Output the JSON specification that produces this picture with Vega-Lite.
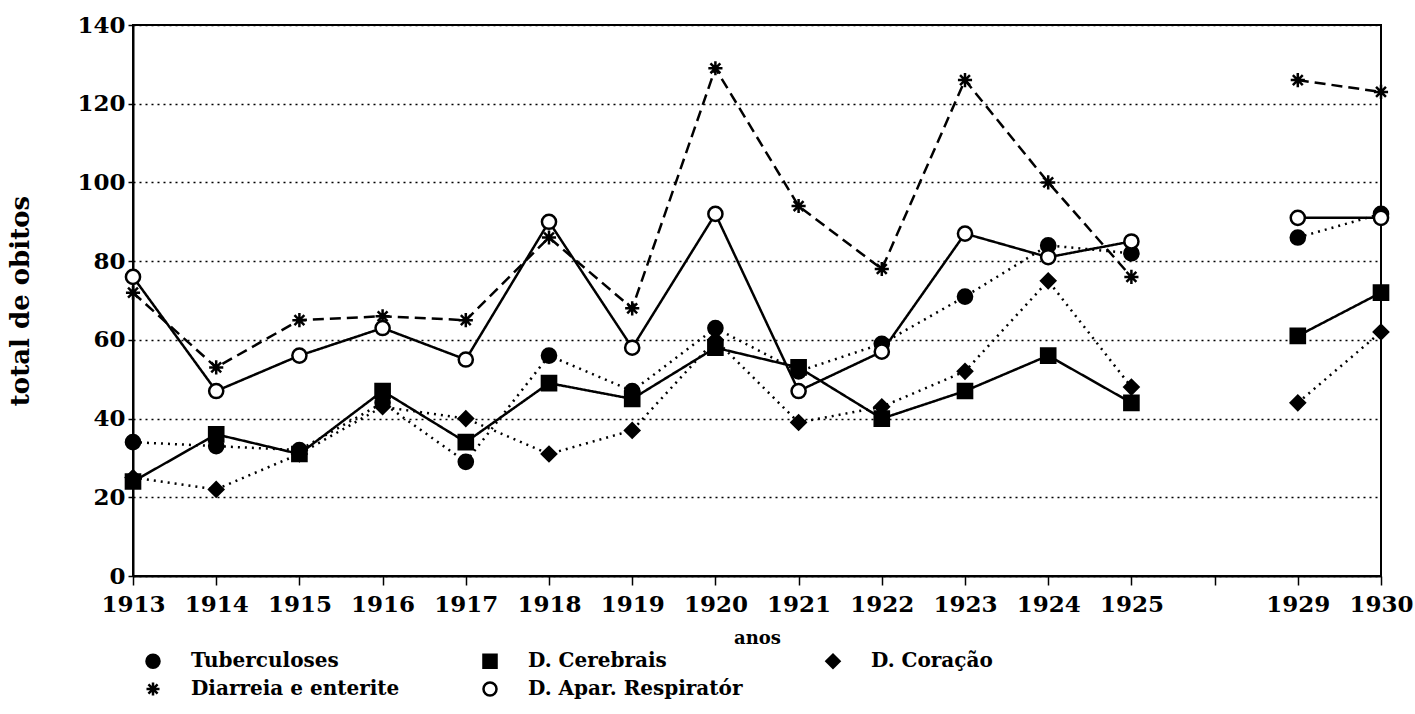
{
  "$schema": "https://vega.github.io/schema/vega-lite/v6.json",
  "autosize": "none",
  "padding": {"left": 133, "top": 25, "right": 34, "bottom": 138},
  "width": 1248,
  "height": 551,
  "background": "white",
  "config": {
    "view": {"stroke": "black", "strokeWidth": 2},
    "font": "DejaVu Serif",
    "axis": {"domainColor": "black", "domainWidth": 2, "tickColor": "black", "tickWidth": 1.5, "labelColor": "black", "titleColor": "black", "labelFont": "DejaVu Serif", "labelFontWeight": "bold", "titleFont": "DejaVu Serif"},
    "legend": {"labelFont": "DejaVu Serif", "labelFontWeight": "bold", "labelColor": "black", "labelFontSize": 20, "labelLimit": 400, "orient": "none", "legendX": 10, "legendY": 626, "direction": "horizontal", "columns": 3, "symbolSize": 170, "labelOffset": 28, "columnPadding": 78, "rowPadding": 4, "symbolStrokeColor": "black", "symbolStrokeWidth": 2.5}
  },
  "data": {"values": [
    {"ano": "1913", "causa": "Tuberculoses", "obitos": 34, "periodo": 1},
    {"ano": "1914", "causa": "Tuberculoses", "obitos": 33, "periodo": 1},
    {"ano": "1915", "causa": "Tuberculoses", "obitos": 32, "periodo": 1},
    {"ano": "1916", "causa": "Tuberculoses", "obitos": 44, "periodo": 1},
    {"ano": "1917", "causa": "Tuberculoses", "obitos": 29, "periodo": 1},
    {"ano": "1918", "causa": "Tuberculoses", "obitos": 56, "periodo": 1},
    {"ano": "1919", "causa": "Tuberculoses", "obitos": 47, "periodo": 1},
    {"ano": "1920", "causa": "Tuberculoses", "obitos": 63, "periodo": 1},
    {"ano": "1921", "causa": "Tuberculoses", "obitos": 52, "periodo": 1},
    {"ano": "1922", "causa": "Tuberculoses", "obitos": 59, "periodo": 1},
    {"ano": "1923", "causa": "Tuberculoses", "obitos": 71, "periodo": 1},
    {"ano": "1924", "causa": "Tuberculoses", "obitos": 84, "periodo": 1},
    {"ano": "1925", "causa": "Tuberculoses", "obitos": 82, "periodo": 1},
    {"ano": "1929", "causa": "Tuberculoses", "obitos": 86, "periodo": 2},
    {"ano": "1930", "causa": "Tuberculoses", "obitos": 92, "periodo": 2},
    {"ano": "1913", "causa": "Diarreia e enterite", "obitos": 72, "periodo": 1},
    {"ano": "1914", "causa": "Diarreia e enterite", "obitos": 53, "periodo": 1},
    {"ano": "1915", "causa": "Diarreia e enterite", "obitos": 65, "periodo": 1},
    {"ano": "1916", "causa": "Diarreia e enterite", "obitos": 66, "periodo": 1},
    {"ano": "1917", "causa": "Diarreia e enterite", "obitos": 65, "periodo": 1},
    {"ano": "1918", "causa": "Diarreia e enterite", "obitos": 86, "periodo": 1},
    {"ano": "1919", "causa": "Diarreia e enterite", "obitos": 68, "periodo": 1},
    {"ano": "1920", "causa": "Diarreia e enterite", "obitos": 129, "periodo": 1},
    {"ano": "1921", "causa": "Diarreia e enterite", "obitos": 94, "periodo": 1},
    {"ano": "1922", "causa": "Diarreia e enterite", "obitos": 78, "periodo": 1},
    {"ano": "1923", "causa": "Diarreia e enterite", "obitos": 126, "periodo": 1},
    {"ano": "1924", "causa": "Diarreia e enterite", "obitos": 100, "periodo": 1},
    {"ano": "1925", "causa": "Diarreia e enterite", "obitos": 76, "periodo": 1},
    {"ano": "1929", "causa": "Diarreia e enterite", "obitos": 126, "periodo": 2},
    {"ano": "1930", "causa": "Diarreia e enterite", "obitos": 123, "periodo": 2},
    {"ano": "1913", "causa": "D. Cerebrais", "obitos": 24, "periodo": 1},
    {"ano": "1914", "causa": "D. Cerebrais", "obitos": 36, "periodo": 1},
    {"ano": "1915", "causa": "D. Cerebrais", "obitos": 31, "periodo": 1},
    {"ano": "1916", "causa": "D. Cerebrais", "obitos": 47, "periodo": 1},
    {"ano": "1917", "causa": "D. Cerebrais", "obitos": 34, "periodo": 1},
    {"ano": "1918", "causa": "D. Cerebrais", "obitos": 49, "periodo": 1},
    {"ano": "1919", "causa": "D. Cerebrais", "obitos": 45, "periodo": 1},
    {"ano": "1920", "causa": "D. Cerebrais", "obitos": 58, "periodo": 1},
    {"ano": "1921", "causa": "D. Cerebrais", "obitos": 53, "periodo": 1},
    {"ano": "1922", "causa": "D. Cerebrais", "obitos": 40, "periodo": 1},
    {"ano": "1923", "causa": "D. Cerebrais", "obitos": 47, "periodo": 1},
    {"ano": "1924", "causa": "D. Cerebrais", "obitos": 56, "periodo": 1},
    {"ano": "1925", "causa": "D. Cerebrais", "obitos": 44, "periodo": 1},
    {"ano": "1929", "causa": "D. Cerebrais", "obitos": 61, "periodo": 2},
    {"ano": "1930", "causa": "D. Cerebrais", "obitos": 72, "periodo": 2},
    {"ano": "1913", "causa": "D. Apar. Respiratór", "obitos": 76, "periodo": 1},
    {"ano": "1914", "causa": "D. Apar. Respiratór", "obitos": 47, "periodo": 1},
    {"ano": "1915", "causa": "D. Apar. Respiratór", "obitos": 56, "periodo": 1},
    {"ano": "1916", "causa": "D. Apar. Respiratór", "obitos": 63, "periodo": 1},
    {"ano": "1917", "causa": "D. Apar. Respiratór", "obitos": 55, "periodo": 1},
    {"ano": "1918", "causa": "D. Apar. Respiratór", "obitos": 90, "periodo": 1},
    {"ano": "1919", "causa": "D. Apar. Respiratór", "obitos": 58, "periodo": 1},
    {"ano": "1920", "causa": "D. Apar. Respiratór", "obitos": 92, "periodo": 1},
    {"ano": "1921", "causa": "D. Apar. Respiratór", "obitos": 47, "periodo": 1},
    {"ano": "1922", "causa": "D. Apar. Respiratór", "obitos": 57, "periodo": 1},
    {"ano": "1923", "causa": "D. Apar. Respiratór", "obitos": 87, "periodo": 1},
    {"ano": "1924", "causa": "D. Apar. Respiratór", "obitos": 81, "periodo": 1},
    {"ano": "1925", "causa": "D. Apar. Respiratór", "obitos": 85, "periodo": 1},
    {"ano": "1929", "causa": "D. Apar. Respiratór", "obitos": 91, "periodo": 2},
    {"ano": "1930", "causa": "D. Apar. Respiratór", "obitos": 91, "periodo": 2},
    {"ano": "1913", "causa": "D. Coração", "obitos": 25, "periodo": 1},
    {"ano": "1914", "causa": "D. Coração", "obitos": 22, "periodo": 1},
    {"ano": "1915", "causa": "D. Coração", "obitos": 31, "periodo": 1},
    {"ano": "1916", "causa": "D. Coração", "obitos": 43, "periodo": 1},
    {"ano": "1917", "causa": "D. Coração", "obitos": 40, "periodo": 1},
    {"ano": "1918", "causa": "D. Coração", "obitos": 31, "periodo": 1},
    {"ano": "1919", "causa": "D. Coração", "obitos": 37, "periodo": 1},
    {"ano": "1920", "causa": "D. Coração", "obitos": 60, "periodo": 1},
    {"ano": "1921", "causa": "D. Coração", "obitos": 39, "periodo": 1},
    {"ano": "1922", "causa": "D. Coração", "obitos": 43, "periodo": 1},
    {"ano": "1923", "causa": "D. Coração", "obitos": 52, "periodo": 1},
    {"ano": "1924", "causa": "D. Coração", "obitos": 75, "periodo": 1},
    {"ano": "1925", "causa": "D. Coração", "obitos": 48, "periodo": 1},
    {"ano": "1929", "causa": "D. Coração", "obitos": 44, "periodo": 2},
    {"ano": "1930", "causa": "D. Coração", "obitos": 62, "periodo": 2}
  ]},
  "encoding": {
    "x": {
      "field": "ano", "type": "ordinal",
      "scale": {"type": "point", "padding": 0, "domain": ["1913","1914","1915","1916","1917","1918","1919","1920","1921","1922","1923","1924","1925","gap","1929","1930"]},
      "axis": {"title": "anos", "labelAngle": 0, "labelExpr": "datum.label == 'gap' ? '' : datum.label", "labelFontSize": 23, "tickSize": 9, "labelPadding": 8, "titleFontSize": 18, "titleFontWeight": "bold", "titlePadding": 13, "grid": false}
    },
    "y": {
      "field": "obitos", "type": "quantitative",
      "scale": {"domain": [0, 140], "nice": false},
      "axis": {"title": "total de obitos", "values": [0,20,40,60,80,100,120,140], "labelFontSize": 23, "tickSize": 5, "labelPadding": 3, "titleFontSize": 26, "titleFontWeight": "bold", "titleX": -100, "grid": true, "gridColor": "black", "gridWidth": 1.5, "gridDash": [2, 4]}
    }
  },
  "layer": [
    {
      "mark": {"type": "line", "color": "black", "strokeWidth": 2.5},
      "encoding": {
        "detail": {"field": "periodo", "type": "nominal"},
        "strokeDash": {
          "field": "causa", "type": "nominal",
          "scale": {"domain": ["D. Apar. Respiratór", "D. Cerebrais", "D. Coração", "Diarreia e enterite", "Tuberculoses"], "range": [[1, 0], [1, 0], [2, 5], [11, 6], [2, 5]]},
          "legend": null
        }
      }
    },
    {
      "mark": {"type": "point", "filled": false, "strokeWidth": 2.5, "size": 200, "opacity": 1},
      "encoding": {
        "shape": {
          "field": "causa", "type": "nominal", "title": null,
          "scale": {"domain": ["Tuberculoses", "D. Cerebrais", "D. Coração", "Diarreia e enterite", "D. Apar. Respiratór"], "range": ["circle", "square", "diamond", "M-1,0L1,0M0,-1L0,1M-0.7,-0.7L0.7,0.7M-0.7,0.7L0.7,-0.7", "circle"]}
        },
        "fill": {
          "field": "causa", "type": "nominal", "title": null,
          "scale": {"domain": ["Tuberculoses", "D. Cerebrais", "D. Coração", "Diarreia e enterite", "D. Apar. Respiratór"], "range": ["black", "black", "black", "black", "white"]}
        },
        "stroke": {
          "field": "causa", "type": "nominal", "title": null,
          "scale": {"domain": ["Tuberculoses", "D. Cerebrais", "D. Coração", "Diarreia e enterite", "D. Apar. Respiratór"], "range": ["black", "black", "black", "black", "black"]}
        }
      }
    }
  ]
}
